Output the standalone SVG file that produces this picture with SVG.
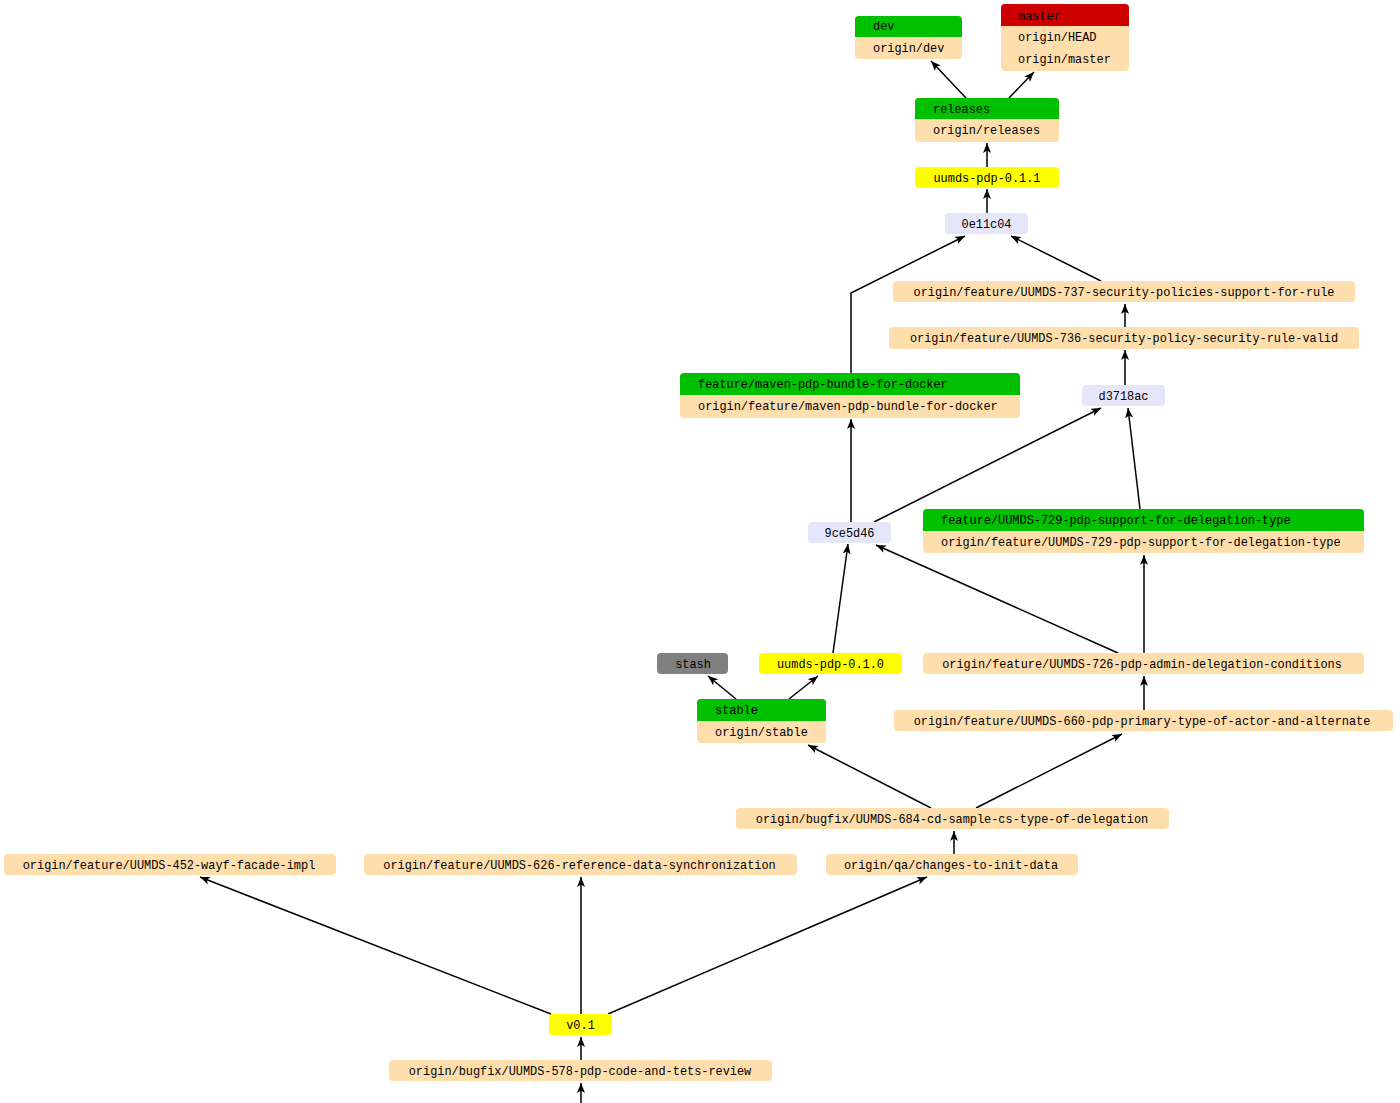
<svg xmlns="http://www.w3.org/2000/svg" width="1400" height="1103" viewBox="0 0 1400 1103">
<style>
text{font-family:"Liberation Mono","Courier New",monospace;font-size:11.9px;fill:#000}
.c{text-anchor:middle}
.peach{fill:#ffdead}
.green{fill:#00c000}
.red{fill:#cc0000}
.yellow{fill:#ffff00}
.lav{fill:#e6e6fa}
.gray{fill:#808080}
.edge{fill:none;stroke:#000;stroke-width:1.5;marker-end:url(#arr)}
</style>
<defs>
<marker id="arr" markerUnits="userSpaceOnUse" markerWidth="11" markerHeight="9" refX="10" refY="4" orient="auto">
<path d="M0,0 L10,4 L0,8 L2.5,4 z" fill="#000"/>
</marker>
</defs>
<rect width="1400" height="1103" fill="#fff"/>
<g id="connectors">
<path class="edge" d="M966,98 L931,61"/>
<path class="edge" d="M1009,98 L1034,72"/>
<path class="edge" d="M987,167 L987,143"/>
<path class="edge" d="M987,213 L987,189"/>
<path class="edge" d="M1101,281 L1011,236"/>
<path class="edge" d="M851,373 L851,293 L965,236"/>
<path class="edge" d="M1125,327 L1125,304"/>
<path class="edge" d="M1125,385 L1125,350"/>
<path class="edge" d="M851,522 L851,419"/>
<path class="edge" d="M874,522 L1101,408"/>
<path class="edge" d="M1140,509 L1128,408"/>
<path class="edge" d="M833,653 L848,544"/>
<path class="edge" d="M1118,653 L876,545"/>
<path class="edge" d="M1144,653 L1144,555"/>
<path class="edge" d="M1144,710 L1144,676"/>
<path class="edge" d="M736,699 L708,676"/>
<path class="edge" d="M789,699 L818,676"/>
<path class="edge" d="M931,808 L808,745"/>
<path class="edge" d="M976,808 L1122,734"/>
<path class="edge" d="M954,854 L954,831"/>
<path class="edge" d="M551,1014 L200,877"/>
<path class="edge" d="M581,1014 L581,877"/>
<path class="edge" d="M608,1014 L927,877"/>
<path class="edge" d="M581,1060 L581,1037"/>
<path class="edge" d="M581,1103 L581,1083"/>
</g>
<g id="node-dev">
<rect class="peach" x="855" y="16" width="107" height="43" rx="4"/>
<rect class="green" x="855" y="16" width="107" height="21" rx="4"/>
<rect class="green" x="855" y="31" width="107" height="6"/>
<text x="873" y="30">dev</text>
<text x="873" y="52">origin/dev</text>
</g>
<g id="node-master">
<rect class="peach" x="1001" y="4" width="128" height="67" rx="4"/>
<rect class="red" x="1001" y="4" width="128" height="22" rx="4"/>
<rect class="red" x="1001" y="20" width="128" height="6"/>
<text x="1018" y="19.5">master</text>
<text x="1018" y="41">origin/HEAD</text>
<text x="1018" y="63">origin/master</text>
</g>
<g id="node-releases">
<rect class="peach" x="915" y="98" width="144" height="44" rx="4"/>
<rect class="green" x="915" y="98" width="144" height="21" rx="4"/>
<rect class="green" x="915" y="113" width="144" height="6"/>
<text x="933" y="112.5">releases</text>
<text x="933" y="134">origin/releases</text>
</g>
<g id="node-uumds-pdp-0.1.1">
<rect class="yellow" x="915" y="167" width="144" height="21" rx="4"/>
<text class="c" x="987" y="182">uumds-pdp-0.1.1</text>
</g>
<g id="node-0e11c04">
<rect class="lav" x="945" y="213" width="83" height="21" rx="4"/>
<text class="c" x="986.5" y="228">0e11c04</text>
</g>
<g id="node-737">
<rect class="peach" x="893" y="281" width="462" height="21" rx="4"/>
<text class="c" x="1124" y="296">origin/feature/UUMDS-737-security-policies-support-for-rule</text>
</g>
<g id="node-736">
<rect class="peach" x="889" y="327" width="470" height="22" rx="4"/>
<text class="c" x="1124" y="342">origin/feature/UUMDS-736-security-policy-security-rule-valid</text>
</g>
<g id="node-d3718ac">
<rect class="lav" x="1082" y="385" width="83" height="21" rx="4"/>
<text class="c" x="1123.5" y="400">d3718ac</text>
</g>
<g id="node-maven">
<rect class="peach" x="680" y="373" width="340" height="45" rx="4"/>
<rect class="green" x="680" y="373" width="340" height="22" rx="4"/>
<rect class="green" x="680" y="389" width="340" height="6"/>
<text x="698" y="388">feature/maven-pdp-bundle-for-docker</text>
<text x="698" y="410">origin/feature/maven-pdp-bundle-for-docker</text>
</g>
<g id="node-9ce5d46">
<rect class="lav" x="808" y="522" width="83" height="21" rx="4"/>
<text class="c" x="849.5" y="537">9ce5d46</text>
</g>
<g id="node-729">
<rect class="peach" x="923" y="509" width="441" height="44" rx="4"/>
<rect class="green" x="923" y="509" width="441" height="22" rx="4"/>
<rect class="green" x="923" y="525" width="441" height="6"/>
<text x="941" y="524">feature/UUMDS-729-pdp-support-for-delegation-type</text>
<text x="941" y="546">origin/feature/UUMDS-729-pdp-support-for-delegation-type</text>
</g>
<g id="node-726">
<rect class="peach" x="923" y="653" width="441" height="21" rx="4"/>
<text class="c" x="1142" y="668">origin/feature/UUMDS-726-pdp-admin-delegation-conditions</text>
</g>
<g id="node-660">
<rect class="peach" x="894" y="710" width="499" height="21" rx="4"/>
<text class="c" x="1142" y="725">origin/feature/UUMDS-660-pdp-primary-type-of-actor-and-alternate</text>
</g>
<g id="node-stash">
<rect class="gray" x="657" y="653" width="71" height="21" rx="4"/>
<text class="c" x="693" y="668">stash</text>
</g>
<g id="node-uumds-pdp-0.1.0">
<rect class="yellow" x="759" y="653" width="143" height="21" rx="4"/>
<text class="c" x="830.5" y="668">uumds-pdp-0.1.0</text>
</g>
<g id="node-stable">
<rect class="peach" x="697" y="699" width="129" height="44" rx="4"/>
<rect class="green" x="697" y="699" width="129" height="22" rx="4"/>
<rect class="green" x="697" y="715" width="129" height="6"/>
<text x="715" y="714">stable</text>
<text x="715" y="736">origin/stable</text>
</g>
<g id="node-684">
<rect class="peach" x="736" y="808" width="433" height="21" rx="4"/>
<text class="c" x="952" y="823">origin/bugfix/UUMDS-684-cd-sample-cs-type-of-delegation</text>
</g>
<g id="node-qa">
<rect class="peach" x="826" y="854" width="252" height="21" rx="4"/>
<text class="c" x="951" y="869">origin/qa/changes-to-init-data</text>
</g>
<g id="node-626">
<rect class="peach" x="364" y="854" width="433" height="21" rx="4"/>
<text class="c" x="579.5" y="869">origin/feature/UUMDS-626-reference-data-synchronization</text>
</g>
<g id="node-452">
<rect class="peach" x="4" y="854" width="332" height="21" rx="4"/>
<text class="c" x="169" y="869">origin/feature/UUMDS-452-wayf-facade-impl</text>
</g>
<g id="node-v0.1">
<rect class="yellow" x="549" y="1014" width="63" height="21" rx="4"/>
<text class="c" x="580.5" y="1029">v0.1</text>
</g>
<g id="node-578">
<rect class="peach" x="389" y="1060" width="383" height="21" rx="4"/>
<text class="c" x="580" y="1075">origin/bugfix/UUMDS-578-pdp-code-and-tets-review</text>
</g>
</svg>
